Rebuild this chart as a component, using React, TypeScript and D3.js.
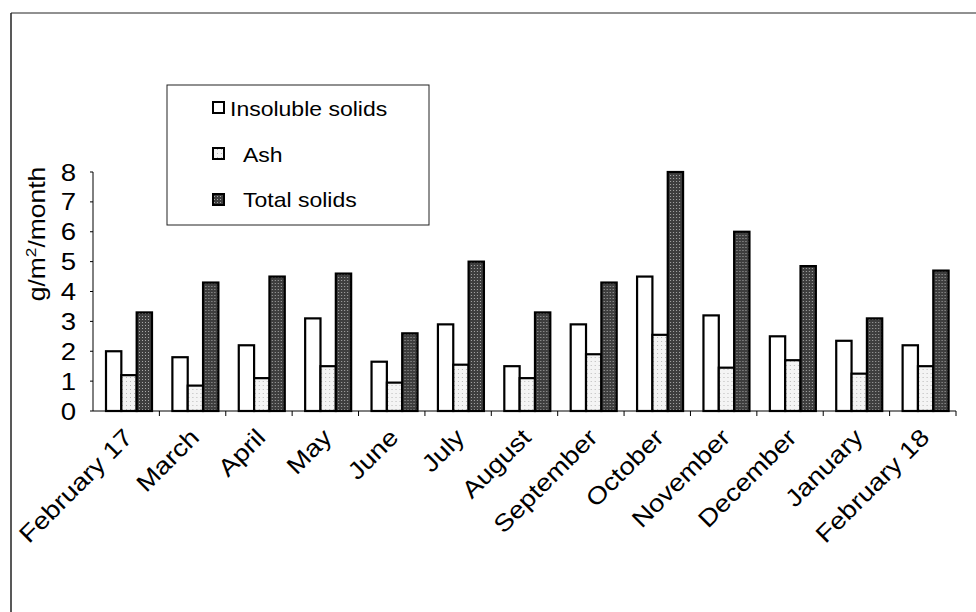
import React from "react";
import * as d3 from "d3";

const categories = [
  "February 17", "March", "April", "May", "June", "July", "August",
  "September", "October", "November", "December", "January", "February 18",
];
const insolubleSolids = [2.0, 1.8, 2.2, 3.1, 1.65, 2.9, 1.5, 2.9, 4.5, 3.2, 2.5, 2.35, 2.2];
const ash = [1.2, 0.85, 1.1, 1.5, 0.95, 1.55, 1.1, 1.9, 2.55, 1.45, 1.7, 1.25, 1.5];
const totalSolids = [3.3, 4.3, 4.5, 4.6, 2.6, 5.0, 3.3, 4.3, 8.0, 6.0, 4.85, 3.1, 4.7];
const yTicks = [0, 1, 2, 3, 4, 5, 6, 7, 8];
const seriesNames = ["Insoluble solids", "Ash", "Total solids"];

const W = 976;
const H = 612;
const FONT = "'Liberation Sans', Arial, sans-serif";
const SX = 1.15;

export default function App() {
  const x = d3.scaleBand<string>().domain(categories).range([93, 956]).padding(0);
  const inner = d3.scaleBand<string>().domain(seriesNames).range([13, 59]).padding(0);
  const y = d3.scaleLinear().domain([0, 8]).range([411, 172]);
  const series = [insolubleSolids, ash, totalSolids];
  const fills = ["#ffffff", "url(#ashPat)", "url(#totPat)"];

  return (
    <div style={{ position: "fixed", left: 0, top: 0 }}>
      <svg width={W} height={H} style={{ display: "block", background: "#fff" }}>
        <defs>
          <pattern id="ashPat" width="4" height="4" patternUnits="userSpaceOnUse">
            <rect width="4" height="4" fill="#f4f4f4" />
            <rect x="1" y="1" width="1" height="1" fill="#b8b8b8" />
          </pattern>
          <pattern id="totPat" width="3" height="3" patternUnits="userSpaceOnUse">
            <rect width="3" height="3" fill="#3e3e3e" />
            <rect x="1" y="1" width="1" height="1" fill="#a8a8a8" />
          </pattern>
        </defs>

        {/* outer frame (top and left) */}
        <line x1={11} y1={13} x2={W} y2={13} stroke="#222" strokeWidth={1} />
        <line x1={11} y1={13} x2={11} y2={H} stroke="#222" strokeWidth={1.5} />

        {/* bars */}
        {categories.map((c, i) => (
          <g key={c} transform={`translate(${x(c)},0)`}>
            {series.map((s, j) => (
              <rect
                key={j}
                x={inner(seriesNames[j])}
                y={y(s[i])}
                width={inner.bandwidth()}
                height={y(0) - y(s[i])}
                fill={fills[j]}
                stroke="#000"
                strokeWidth={2.2}
              />
            ))}
          </g>
        ))}

        {/* y axis */}
        <line x1={93} y1={y(8)} x2={93} y2={y(0)} stroke="#000" strokeWidth={1} />
        {yTicks.map((t) => (
          <g key={t}>
            <line x1={90} x2={93} y1={y(t)} y2={y(t)} stroke="#000" />
            <text
              transform={`translate(76,${y(t) + 8.5}) scale(${SX},1)`}
              textAnchor="end"
              fontFamily={FONT}
              fontSize={24}
              fill="#000"
            >
              {t}
            </text>
          </g>
        ))}
        <text
          transform={`translate(45,234) rotate(-90) scale(${SX},1)`}
          textAnchor="middle"
          fontFamily={FONT}
          fontSize={23}
          fill="#000"
        >
          g/m<tspan dy="-9" fontSize={15}>2</tspan><tspan dy="9">/month</tspan>
        </text>

        {/* x axis */}
        <line x1={93} x2={956} y1={y(0)} y2={y(0)} stroke="#000" strokeWidth={1} />
        {categories.map((c) => (
          <line
            key={"t" + c}
            x1={x(c)! + x.bandwidth()}
            x2={x(c)! + x.bandwidth()}
            y1={y(0)}
            y2={y(0) + 5}
            stroke="#000"
          />
        ))}
        {categories.map((c) => {
          const cx = x(c)! + x.bandwidth() / 2 + 8;
          const cy = y(0) + 28;
          return (
            <text
              key={"l" + c}
              transform={`translate(${cx},${cy}) rotate(-45) scale(${SX},1)`}
              textAnchor="end"
              fontFamily={FONT}
              fontSize={24}
              fill="#000"
            >
              {c}
            </text>
          );
        })}

        {/* legend */}
        <rect x={167} y={85} width={262} height={140} fill="#fff" stroke="#222" strokeWidth={1} />
        {seriesNames.map((n, j) => {
          const sy = [102, 148, 194][j];
          const base = [116, 162, 207][j];
          const tx = j === 0 ? 230 : 243;
          return (
            <g key={n}>
              <rect x={213} y={sy} width={11} height={11} fill={fills[j]} stroke="#000" strokeWidth={2} />
              <text
                transform={`translate(${tx},${base}) scale(${SX},1)`}
                fontFamily={FONT}
                fontSize={20}
                fill="#000"
              >
                {n}
              </text>
            </g>
          );
        })}
      </svg>
    </div>
  );
}
